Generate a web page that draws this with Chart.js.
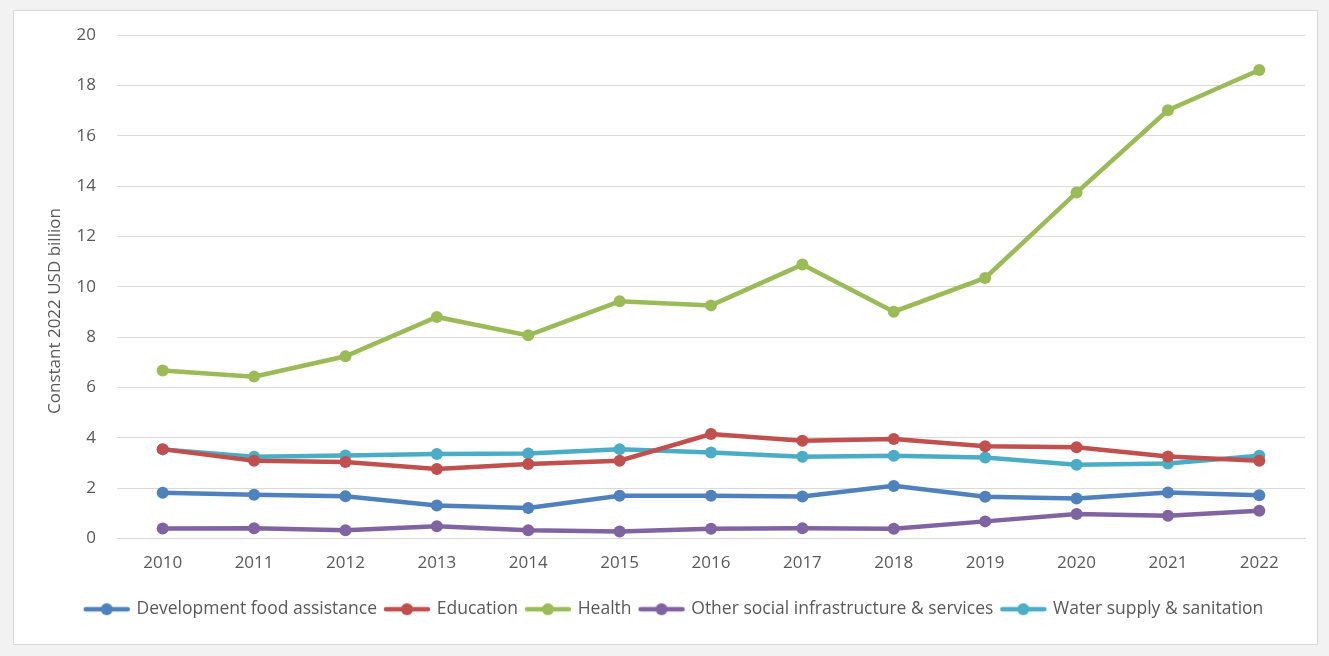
<!DOCTYPE html>
<html>
<head>
<meta charset="utf-8">
<script src="https://cdn.jsdelivr.net/npm/chart.js@4"></script>
<style>
  html, body { margin: 0; padding: 0; background: #f2f2f2; }
  #box { position: absolute; left: 13px; top: 10px; width: 1303px; height: 633px; background: #ffffff; border: 1px solid #d9d9d9; }
  canvas { display: block; }
</style>
</head>
<body>
<div id="box"><canvas id="c" width="1303" height="633"></canvas></div>
<script>
const years = ['2010','2011','2012','2013','2014','2015','2016','2017','2018','2019','2020','2021','2022'];
const foodAssistance = [1.82, 1.74, 1.68, 1.31, 1.21, 1.70, 1.70, 1.67, 2.09, 1.66, 1.59, 1.83, 1.72];
const education      = [3.55, 3.09, 3.04, 2.76, 2.96, 3.09, 4.15, 3.88, 3.95, 3.66, 3.62, 3.26, 3.09];
const health         = [6.67, 6.43, 7.24, 8.80, 8.07, 9.42, 9.26, 10.88, 9.01, 10.35, 13.74, 17.01, 18.61];
const otherSocial    = [0.40, 0.41, 0.33, 0.49, 0.33, 0.28, 0.39, 0.41, 0.39, 0.68, 0.97, 0.90, 1.10];
const waterSanitation= [3.54, 3.25, 3.30, 3.36, 3.38, 3.55, 3.42, 3.25, 3.29, 3.22, 2.93, 2.98, 3.29];
const yTicks = [0, 2, 4, 6, 8, 10, 12, 14, 16, 18, 20];

const seriesNames = ['Development food assistance', 'Education', 'Health', 'Other social infrastructure & services', 'Water supply & sanitation'];
const seriesData = [foodAssistance, education, health, otherSocial, waterSanitation];
const colors = ['#4F81BD', '#C0504D', '#9BBB59', '#8064A2', '#4BACC6'];

const FONT = 'Open Sans, Lato, sans-serif';
const FS = 17;

function legendIcon(color) {
  const cv = document.createElement('canvas');
  cv.width = 48; cv.height = 14;
  const g = cv.getContext('2d');
  g.strokeStyle = color; g.lineWidth = 4.5; g.lineCap = 'round';
  g.beginPath(); g.moveTo(3, 7); g.lineTo(45, 7); g.stroke();
  g.fillStyle = color;
  g.beginPath(); g.arc(24, 7, 6, 0, Math.PI * 2); g.fill();
  return cv;
}
const icons = colors.map(legendIcon);

const datasets = seriesNames.map((n, i) => ({
  label: n,
  data: seriesData[i],
  borderColor: colors[i],
  backgroundColor: colors[i],
  borderWidth: 4.5,
  pointRadius: 6,
  pointHoverRadius: 6,
  pointBorderWidth: 0,
  tension: 0
}));

const legendShift = {
  id: 'legendShift',
  afterLayout(chart) {
    if (chart.legend) { chart.legend.left += 15; chart.legend.right += 15; }
  }
};

new Chart(document.getElementById('c'), {
  type: 'line',
  data: { labels: years, datasets },
  plugins: [legendShift],
  options: {
    responsive: false,
    animation: false,
    layout: { padding: { top: 24, right: 12, left: 0, bottom: 16 } },
    plugins: {
      tooltip: { enabled: false },
      legend: {
        position: 'bottom',
        labels: {
          usePointStyle: true,
          pointStyleWidth: 42,
          padding: 9,
          color: '#595959',
          font: { family: FONT, size: 17.5 },
          generateLabels(chart) {
            return chart.data.datasets.map((d, i) => ({
              text: d.label,
              pointStyle: icons[i],
              fillStyle: colors[i],
              strokeStyle: colors[i],
              lineWidth: 0,
              hidden: false,
              datasetIndex: i,
              fontColor: '#595959'
            }));
          }
        }
      }
    },
    scales: {
      x: {
        offset: true,
        grid: { display: false, drawTicks: false },
        border: { display: true, color: '#d9d9d9', width: 1 },
        ticks: { color: '#595959', font: { family: FONT, size: FS }, padding: 14, maxRotation: 0 },
        afterFit(s) { s.height = 53; }
      },
      y: {
        min: 0, max: 20,
        afterBuildTicks(s) { s.ticks = yTicks.map(v => ({ value: v })); },
        grid: { color: '#d9d9d9', lineWidth: 1, drawTicks: false },
        border: { display: false },
        ticks: { color: '#595959', font: { family: FONT, size: FS }, padding: 21 },
        title: { display: true, text: 'Constant 2022 USD billion           ', color: '#595959', font: { family: FONT, size: FS }, padding: { top: 31, bottom: 0 } },
        afterFit(s) { s.width = 103; s.paddingTop = 4; s.paddingBottom = 4; }
      }
    }
  }
});
</script>
</body>
</html>
